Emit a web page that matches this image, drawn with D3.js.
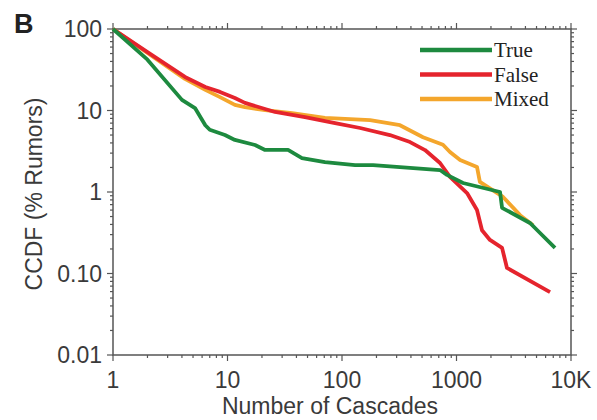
<!DOCTYPE html>
<html>
<head>
<meta charset="utf-8">
<script src="https://cdn.jsdelivr.net/npm/d3@7"></script>
<style>
  body { margin: 0; background: #fff; }
  svg text { fill: #3a3a3a; }
  .tick-label { font-family: "Liberation Sans", Arial, sans-serif; font-size: 23px; }
  .axis-title { font-family: "Liberation Sans", Arial, sans-serif; font-size: 23px; }
  .legend-label { font-family: "Liberation Serif", "Times New Roman", serif; font-size: 21px; fill: #222; }
</style>
</head>
<body>
<svg id="chart"></svg>
<script>
// series: [cascades, % rumors]
const trueSeries = [
  [1, 100], [2, 42], [4.0, 13.5], [5.2, 10.7], [6.4, 6.6], [7.0, 5.8], [9.5, 5.0],
  [11.6, 4.35], [17.4, 3.77], [21.3, 3.28], [33.8, 3.28], [44.7, 2.61], [71, 2.33],
  [130, 2.14], [187, 2.14], [718, 1.86], [826, 1.62], [1140, 1.29], [2400, 1.0],
  [2500, 0.64], [4380, 0.417], [5050, 0.342], [7250, 0.206]
];
const falseSeries = [
  [1, 100], [2, 52], [4.25, 25.8], [6.4, 19.4], [8.6, 16.9], [11.6, 14.2], [14.2, 12.4],
  [26, 9.6], [47.5, 8.3], [87, 7.0], [144, 6.1], [262, 5.0], [393, 4.1], [531, 3.27],
  [718, 2.27], [877, 1.53], [1236, 0.97], [1510, 0.6], [1670, 0.34], [1960, 0.258],
  [2500, 0.206], [2760, 0.117], [6560, 0.059]
];
const mixedSeries = [
  [1, 100], [2, 51], [4.25, 24.4], [6.4, 17.9], [8.6, 14.6], [11.6, 11.7], [14.2, 11.0],
  [21.3, 10.1], [36.6, 9.3], [71, 8.1], [176, 7.6], [321, 6.6], [510, 4.7], [762, 3.8],
  [877, 3.1], [1075, 2.47], [1510, 2.03], [1600, 1.33], [2550, 0.87], [3590, 0.52],
  [4660, 0.39]
];
const seriesNames = ["True", "False", "Mixed"];
const seriesColors = ["#1d8a3f", "#e5242d", "#f4a62c"];
const xTicks = [1, 10, 100, 1000, 10000];
const xTickLabels = ["1", "10", "100", "1000", "10K"];
const yTicks = [100, 10, 1, 0.1, 0.01];
const yTickLabels = ["100", "10", "1", "0.10", "0.01"];

const W = 597, H = 420;
const margin = { top: 29, right: 26, bottom: 65, left: 113 };
const width = W - margin.left - margin.right;
const height = H - margin.top - margin.bottom;

const svg = d3.select("#chart").attr("width", W).attr("height", H);
const g = svg.append("g").attr("transform", `translate(${margin.left},${margin.top})`);

const x = d3.scaleLog().domain([1, 10000]).range([0, width]);
const y = d3.scaleLog().domain([0.01, 100]).range([height, 0]);

// minor ticks 2..9 in each decade
const minor = (lo, hi) => {
  const out = [];
  for (let e = lo; e < hi; e++) for (let k = 2; k <= 9; k++) out.push(k * Math.pow(10, e));
  return out;
};
const xMinor = minor(0, 4);
const yMinor = minor(-2, 2);

const axisColor = "#555";

// frame
g.append("rect")
  .attr("width", width).attr("height", height)
  .attr("fill", "none").attr("stroke", axisColor).attr("stroke-width", 1.5);

// ticks on all four sides, outward
const tickG = g.append("g").attr("stroke", axisColor).attr("stroke-width", 1.2);
[[0, -1], [height, 1]].forEach(([yy, side]) => {
  tickG.selectAll(null).data(xTicks).join("line")
    .attr("x1", d => x(d)).attr("x2", d => x(d))
    .attr("y1", yy).attr("y2", yy + side * 6);
  tickG.selectAll(null).data(xMinor).join("line")
    .attr("x1", d => x(d)).attr("x2", d => x(d))
    .attr("y1", yy).attr("y2", yy + side * 3);
});
[[0, -1], [width, 1]].forEach(([xx, side]) => {
  tickG.selectAll(null).data(yTicks).join("line")
    .attr("y1", d => y(d)).attr("y2", d => y(d))
    .attr("x1", xx).attr("x2", xx + side * 6);
  tickG.selectAll(null).data(yMinor).join("line")
    .attr("y1", d => y(d)).attr("y2", d => y(d))
    .attr("x1", xx).attr("x2", xx + side * 3);
});

// tick labels
g.selectAll(".xl").data(xTicks).join("text")
  .attr("class", "tick-label")
  .attr("x", d => x(d)).attr("y", height + 33)
  .attr("text-anchor", "middle")
  .text((d, i) => xTickLabels[i]);

g.selectAll(".yl").data(yTicks).join("text")
  .attr("class", "tick-label")
  .attr("x", -11).attr("y", d => y(d)).attr("dy", "0.35em")
  .attr("text-anchor", "end")
  .text((d, i) => yTickLabels[i]);

// axis titles
svg.append("text").attr("class", "axis-title")
  .attr("x", margin.left + width / 2 - 12).attr("y", 414)
  .attr("text-anchor", "middle")
  .text("Number of Cascades");

svg.append("text").attr("class", "axis-title")
  .attr("transform", `translate(42,${margin.top + height / 2 + 2}) rotate(-90)`)
  .attr("text-anchor", "middle")
  .text("CCDF (% Rumors)");

// panel letter
svg.append("text")
  .attr("x", 14).attr("y", 33)
  .attr("font-family", "Liberation Sans, Arial, sans-serif")
  .attr("font-weight", "bold").attr("font-size", 27)
  .style("fill", "#222")
  .text("B");

// lines
const line = d3.line().x(d => x(d[0])).y(d => y(d[1]));
const allSeries = [trueSeries, falseSeries, mixedSeries];
// draw order: mixed under, then false, then true on top at the tail
[2, 1, 0].forEach(i => {
  g.append("path")
    .datum(allSeries[i])
    .attr("fill", "none")
    .attr("stroke", seriesColors[i])
    .attr("stroke-width", 3.8)
    .attr("stroke-linejoin", "round")
    .attr("d", line);
});

// legend
const legend = svg.append("g").attr("transform", "translate(420,50)");
seriesNames.forEach((name, i) => {
  const row = legend.append("g").attr("transform", `translate(0,${i * 24.5})`);
  row.append("line").attr("x1", 0).attr("x2", 72)
    .attr("stroke", seriesColors[i]).attr("stroke-width", 4.5);
  row.append("text").attr("class", "legend-label")
    .attr("x", 74).attr("y", 7).text(name);
});
</script>
</body>
</html>
